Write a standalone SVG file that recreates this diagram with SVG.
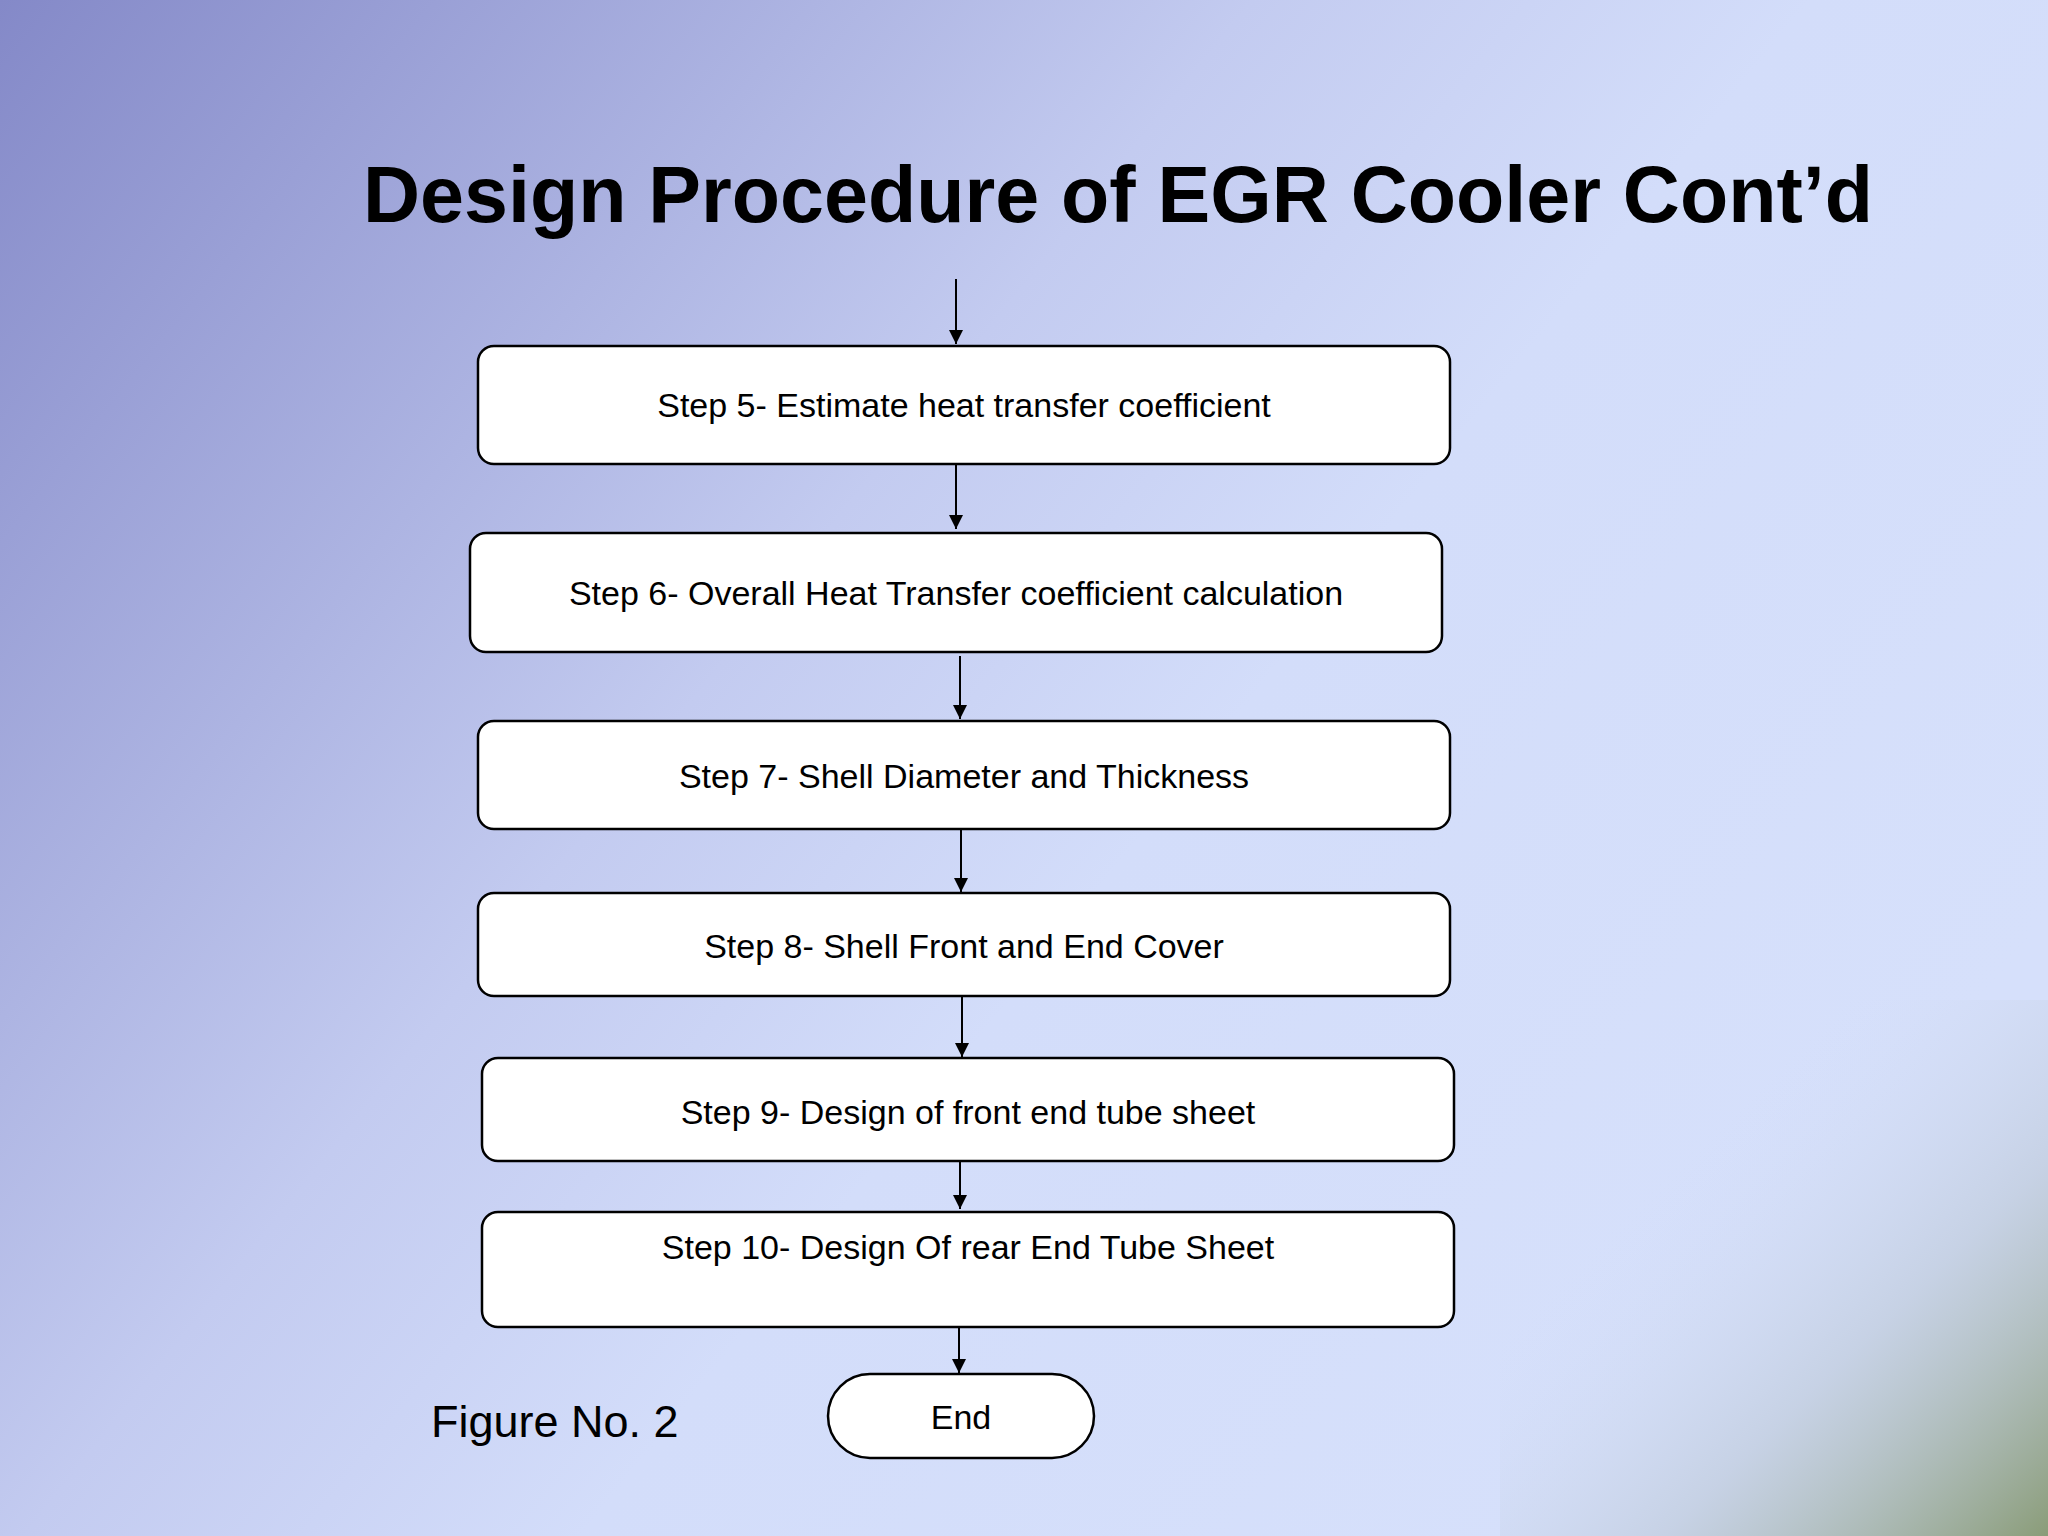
<svg xmlns="http://www.w3.org/2000/svg" width="2048" height="1536" viewBox="0 0 2048 1536">
<defs>
<linearGradient id="bg" x1="0" y1="0" x2="1" y2="0.6">
<stop offset="0" stop-color="#8489c8"/>
<stop offset="0.45" stop-color="#c3cbf0"/>
<stop offset="0.65" stop-color="#d3ddfa"/>
<stop offset="1" stop-color="#d6e0fb"/>
</linearGradient>
<linearGradient id="corner" x1="0.3" y1="0.3" x2="1" y2="1">
<stop offset="0" stop-color="#d6e0fb" stop-opacity="0"/>
<stop offset="0.5" stop-color="#bcc8d6" stop-opacity="0.6"/>
<stop offset="1" stop-color="#8a9c78" stop-opacity="1"/>
</linearGradient>
<marker id="ah" viewBox="0 0 10 10" refX="10" refY="5" markerWidth="14" markerHeight="14" markerUnits="userSpaceOnUse" orient="auto">
<path d="M0,0 L10,5 L0,10 z" fill="#000"/>
</marker>
<style>
.box{fill:#fff;stroke:#000;stroke-width:2.5}
.t{font-family:"Liberation Sans",Arial,sans-serif;font-size:34px;text-anchor:middle;fill:#000}
.c{stroke:#000;stroke-width:2;fill:none;marker-end:url(#ah)}
</style>
</defs>
<rect width="2048" height="1536" fill="url(#bg)"/>
<rect x="1500" y="1000" width="548" height="536" fill="url(#corner)"/>
<text x="1118" y="222" font-family="Liberation Sans,Arial,sans-serif" font-weight="bold" font-size="79" text-anchor="middle">Design Procedure of EGR Cooler Cont’d</text>
<g id="connectors">
<line class="c" x1="956" y1="279" x2="956" y2="344"/>
<line class="c" x1="956" y1="464" x2="956" y2="529"/>
<line class="c" x1="960" y1="656" x2="960" y2="719"/>
<line class="c" x1="961" y1="829" x2="961" y2="892"/>
<line class="c" x1="962" y1="996" x2="962" y2="1057"/>
<line class="c" x1="960" y1="1161" x2="960" y2="1209"/>
<line class="c" x1="959" y1="1327" x2="959" y2="1373"/>
</g>
<g id="step5"><rect class="box" x="478" y="346" width="972" height="118" rx="16"/><text class="t" x="964" y="417">Step 5- Estimate heat transfer coefficient</text></g>
<g id="step6"><rect class="box" x="470" y="533" width="972" height="119" rx="16"/><text class="t" x="956" y="605">Step 6- Overall Heat Transfer coefficient calculation</text></g>
<g id="step7"><rect class="box" x="478" y="721" width="972" height="108" rx="16"/><text class="t" x="964" y="788">Step 7- Shell Diameter and Thickness</text></g>
<g id="step8"><rect class="box" x="478" y="893" width="972" height="103" rx="16"/><text class="t" x="964" y="958">Step 8- Shell Front and End Cover</text></g>
<g id="step9"><rect class="box" x="482" y="1058" width="972" height="103" rx="16"/><text class="t" x="968" y="1124">Step 9- Design of front end tube sheet</text></g>
<g id="step10"><rect class="box" x="482" y="1212" width="972" height="115" rx="16"/><text class="t" x="968" y="1259">Step 10- Design Of rear End Tube Sheet</text></g>
<g id="end"><rect class="box" x="828" y="1374" width="266" height="84" rx="42"/><text class="t" x="961" y="1429">End</text></g>
<text x="431" y="1437" font-family="Liberation Sans,Arial,sans-serif" font-size="45">Figure No. 2</text>
</svg>
